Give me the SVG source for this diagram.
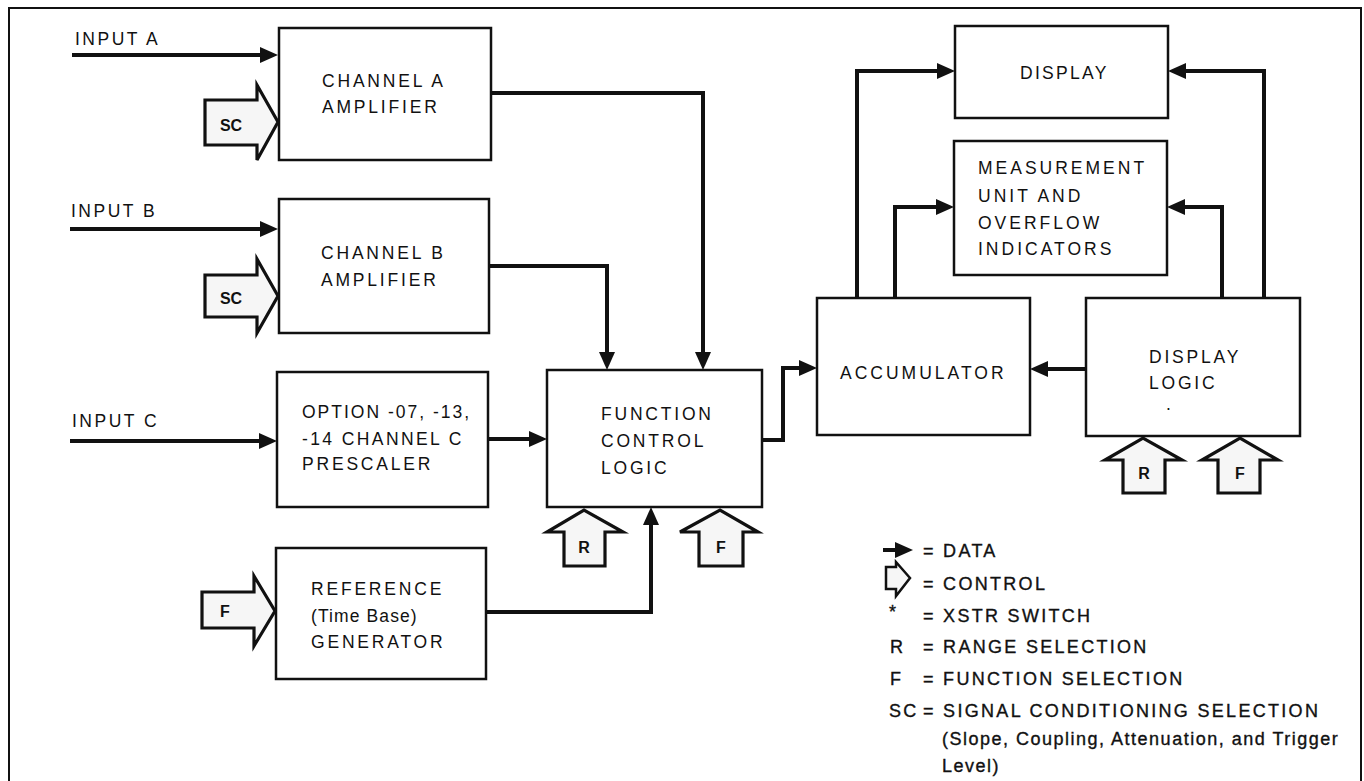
<svg xmlns="http://www.w3.org/2000/svg" width="1364" height="781" viewBox="0 0 1364 781">
<style>
.box{fill:#fff;stroke:#111;stroke-width:2.5}
.t{font-family:"Liberation Sans",Arial,sans-serif;font-size:17.5px;letter-spacing:2.8px;fill:#111}
.lg{font-family:"Liberation Sans",Arial,sans-serif;font-size:18px;letter-spacing:2.3px;fill:#111;stroke:#111;stroke-width:0.35}
.ct{font-family:"Liberation Sans",Arial,sans-serif;font-size:16px;font-weight:bold;fill:#111;text-anchor:middle}
.ctl{fill:#f6f6f6;stroke:#111;stroke-width:3.2;stroke-linejoin:miter}
.c{fill:none;stroke:#111;stroke-width:4}
</style>
<defs>
<marker id="a" viewBox="0 0 18 16" refX="10" refY="8" markerWidth="18" markerHeight="16" markerUnits="userSpaceOnUse" orient="auto">
<path d="M0,0 L18,8 L0,16 z" fill="#111"/>
</marker>
</defs>
<path d="M9,781 V8 H1361 V781" fill="none" stroke="#111" stroke-width="2"/>

<g id="connectors">
<path class="c" d="M72,55 H270" marker-end="url(#a)"/>
<path class="c" d="M70,229 H270" marker-end="url(#a)"/>
<path class="c" d="M70,441 H269" marker-end="url(#a)"/>
<path class="c" d="M491,93 H703 V362" marker-end="url(#a)"/>
<path class="c" d="M489,266 H607 V362" marker-end="url(#a)"/>
<path class="c" d="M488,439 H539" marker-end="url(#a)"/>
<path class="c" d="M486,612 H651 V515" marker-end="url(#a)"/>
<path class="c" d="M762,440 H783 V368 H809" marker-end="url(#a)"/>
<path class="c" d="M1086,369 H1038" marker-end="url(#a)"/>
<path class="c" d="M857,298 V71 H947" marker-end="url(#a)"/>
<path class="c" d="M895,298 V207 H946" marker-end="url(#a)"/>
<path class="c" d="M1264,298 V71 H1176" marker-end="url(#a)"/>
<path class="c" d="M1222,298 V207 H1175" marker-end="url(#a)"/>
</g>

<g id="labels-inputs">
<text class="t" x="75" y="45" style="letter-spacing:2.5px">INPUT A</text>
<text class="t" x="71" y="217" style="letter-spacing:2.5px">INPUT B</text>
<text class="t" x="72" y="427" style="letter-spacing:2.5px">INPUT C</text>
</g>

<g id="channel-a">
<rect class="box" x="279" y="28" width="212" height="132"/>
<text class="t" x="322" y="87">CHANNEL A</text>
<text class="t" x="322" y="113">AMPLIFIER</text>
</g>
<g id="sc-a">
<polygon class="ctl" points="205,100 257,100 257,85 278,122 257,160 257,145 205,145"/>
<text class="ct" x="231" y="131">SC</text>
</g>

<g id="channel-b">
<rect class="box" x="279" y="199" width="210" height="134"/>
<text class="t" x="321" y="259">CHANNEL B</text>
<text class="t" x="321" y="286">AMPLIFIER</text>
</g>
<g id="sc-b">
<polygon class="ctl" points="205,275 257,275 257,259 278,296 257,333 257,317 205,317"/>
<text class="ct" x="231" y="304">SC</text>
</g>

<g id="prescaler">
<rect class="box" x="277" y="372" width="211" height="135"/>
<text class="t" x="302" y="418" style="letter-spacing:2px">OPTION -07, -13,</text>
<text class="t" x="302" y="445" style="letter-spacing:2.4px">-14 CHANNEL C</text>
<text class="t" x="302" y="470">PRESCALER</text>
</g>

<g id="reference">
<rect class="box" x="276" y="548" width="210" height="131"/>
<text class="t" x="311" y="595">REFERENCE</text>
<text class="t" x="311" y="622" style="letter-spacing:1.1px">(Time Base)</text>
<text class="t" x="311" y="648">GENERATOR</text>
</g>
<g id="f-ref">
<polygon class="ctl" points="202,592 254,592 254,576 275,611 254,646 254,628 202,628"/>
<text class="ct" x="225" y="617">F</text>
</g>

<g id="function-control">
<rect class="box" x="547" y="370" width="215" height="137"/>
<text class="t" x="601" y="420">FUNCTION</text>
<text class="t" x="601" y="447">CONTROL</text>
<text class="t" x="601" y="474">LOGIC</text>
</g>
<g id="r-fcl">
<polygon class="ctl" points="564,566 564,532 547,532 584,510 623,532 605,532 605,566"/>
<text class="ct" x="584" y="553">R</text>
</g>
<g id="f-fcl">
<polygon class="ctl" points="699,566 699,532 680,532 720,510 758,532 743,532 743,566"/>
<text class="ct" x="721" y="553">F</text>
</g>

<g id="display">
<rect class="box" x="955" y="26" width="213" height="92"/>
<text class="t" x="1020" y="79" style="letter-spacing:2.3px">DISPLAY</text>
</g>

<g id="measurement">
<rect class="box" x="954" y="141" width="213" height="134"/>
<text class="t" x="978" y="174" style="letter-spacing:3px">MEASUREMENT</text>
<text class="t" x="978" y="202" style="letter-spacing:3px">UNIT AND</text>
<text class="t" x="978" y="229" style="letter-spacing:3px">OVERFLOW</text>
<text class="t" x="978" y="255" style="letter-spacing:3px">INDICATORS</text>
</g>

<g id="accumulator">
<rect class="box" x="817" y="298" width="213" height="137"/>
<text class="t" x="840" y="379" style="letter-spacing:3px">ACCUMULATOR</text>
</g>

<g id="display-logic">
<rect class="box" x="1086" y="298" width="214" height="138"/>
<text class="t" x="1149" y="363">DISPLAY</text>
<text class="t" x="1149" y="389">LOGIC</text>
<text class="t" x="1166" y="410">.</text>
</g>
<g id="r-dl">
<polygon class="ctl" points="1123,493 1123,460 1105,460 1143,438 1182,460 1165,460 1165,493"/>
<text class="ct" x="1144" y="479">R</text>
</g>
<g id="f-dl">
<polygon class="ctl" points="1218,493 1218,460 1202,460 1240,438 1278,460 1260,460 1260,493"/>
<text class="ct" x="1240" y="479">F</text>
</g>

<g id="legend">
<path class="c" d="M883,550 H905" marker-end="url(#a)"/>
<text class="lg" x="923" y="557">= DATA</text>
<polygon points="886,567 896,567 896,562 910,578 896,596 896,589 886,589" fill="#f6f6f6" stroke="#111" stroke-width="2.5"/>
<text class="lg" x="923" y="590">= CONTROL</text>
<text class="lg" x="889" y="618">*</text>
<text class="lg" x="923" y="622">= XSTR SWITCH</text>
<text class="lg" x="890" y="653">R</text>
<text class="lg" x="923" y="653">= RANGE SELECTION</text>
<text class="lg" x="890" y="685">F</text>
<text class="lg" x="923" y="685">= FUNCTION SELECTION</text>
<text class="lg" x="889" y="717">SC</text>
<text class="lg" x="923" y="717">= SIGNAL CONDITIONING SELECTION</text>
<text class="lg" x="942" y="745" style="letter-spacing:1.5px">(Slope, Coupling, Attenuation, and Trigger</text>
<text class="lg" x="942" y="772" style="letter-spacing:1.5px">Level)</text>
</g>
</svg>
